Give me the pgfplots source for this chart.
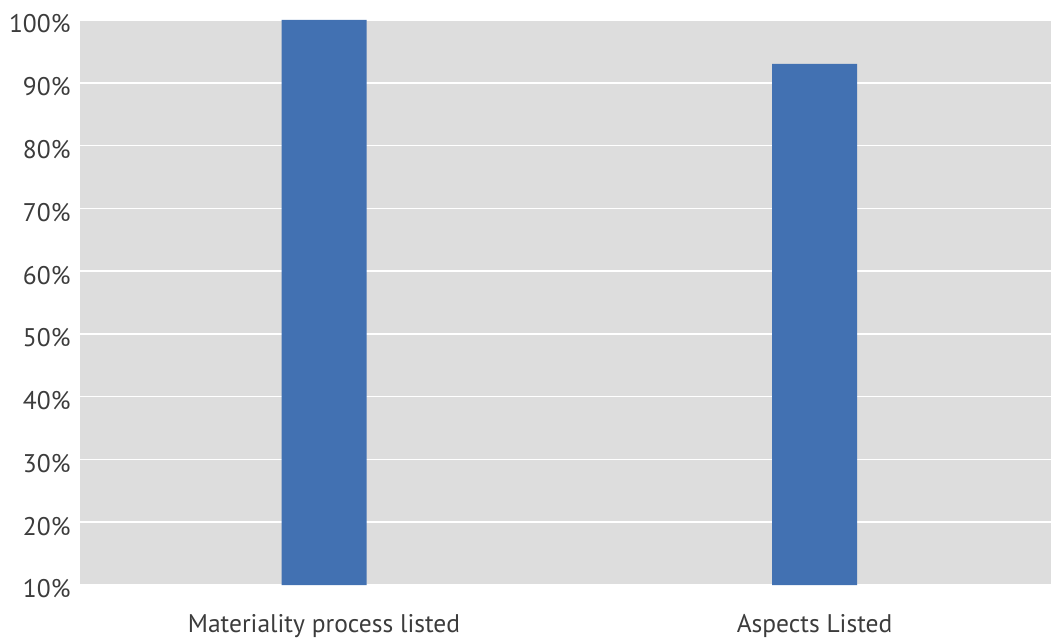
\documentclass[border=0pt]{standalone}
\usepackage{pgfplots}
\pgfplotsset{compat=1.18}
\usepackage{fontspec}
\setmainfont{PT Sans}
\definecolor{bgray}{HTML}{DDDDDD}
\definecolor{barblue}{HTML}{4271B2}
\definecolor{txt}{HTML}{3C3C3C}

\begin{document}
\begin{tikzpicture}
  \begin{axis}[
    name=ax,
    scale only axis,
    width=971pt, height=565pt,
    xmin=-0.4975, xmax=1.482,
    ymin=10, ymax=100,
    ytick={10,20,...,100},
    yticklabel={\pgfmathprintnumber{\tick}\%},
    xtick=data,
    xticklabels={Materiality process listed, Aspects Listed},
    axis line style={draw=none},
    tick style={draw=none},
    axis background/.style={fill=bgray},
    ymajorgrids,
    grid style={white, line width=1.5pt},
    ticklabel style={font=\fontsize{25.5}{30}\selectfont, text=txt},
    /pgf/number format/assume math mode=true,
    yticklabel style={xshift=-6pt, yshift=-4pt},
    xticklabel style={yshift=-22pt},
    ybar, bar width=85pt,
  ]
    \addplot[fill=barblue, draw=none] coordinates {(0,100) (1,93)};
  \end{axis}
  \pgfresetboundingbox
  \path[use as bounding box] ([shift={(-80pt,-57pt)}]ax.south west) rectangle ([shift={(0pt,20pt)}]ax.north east);
\end{tikzpicture}
\end{document}
